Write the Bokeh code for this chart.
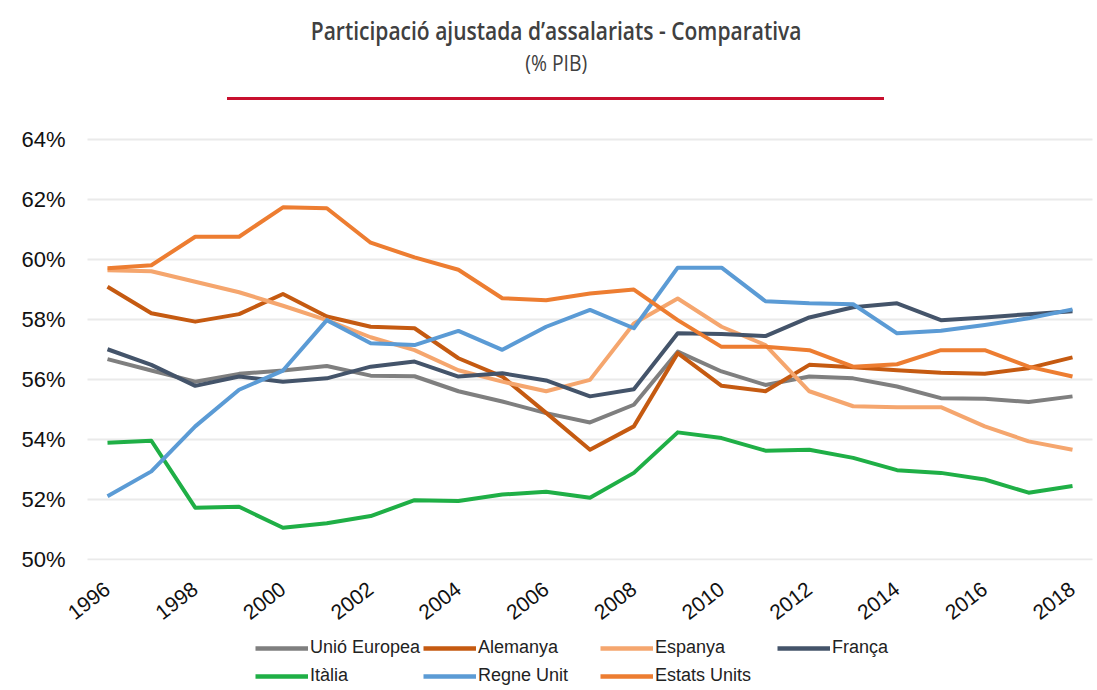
from bokeh.plotting import figure
from bokeh.models import (Div, Legend, LegendItem, FixedTicker, PrintfTickFormatter,
                          Range1d, ColumnDataSource)
from bokeh.layouts import column
from bokeh.embed import file_html
from bokeh.resources import INLINE

# ---------------- data ----------------
years = list(range(1996, 2019))
x_ticks = list(range(1996, 2019, 2))
y_ticks = [50, 52, 54, 56, 58, 60, 62, 64]

unio_europea = [56.67, 56.29, 55.92, 56.18, 56.29, 56.44, 56.12, 56.10, 55.60, 55.26, 54.87, 54.56,
                55.15, 56.92, 56.26, 55.81, 56.09, 56.03, 55.76, 55.37, 55.35, 55.24, 55.43]
alemanya = [59.08, 58.20, 57.92, 58.17, 58.84, 58.09, 57.75, 57.70, 56.70, 56.09, 54.88, 53.65,
            54.43, 56.87, 55.78, 55.60, 56.48, 56.40, 56.30, 56.22, 56.18, 56.37, 56.73]
espanya = [59.63, 59.60, 59.25, 58.90, 58.45, 57.97, 57.40, 56.97, 56.30, 55.92, 55.60, 55.98,
           57.86, 58.69, 57.75, 57.14, 55.60, 55.10, 55.07, 55.07, 54.43, 53.93, 53.65]
franca = [57.00, 56.48, 55.78, 56.09, 55.92, 56.03, 56.42, 56.59, 56.09, 56.20, 55.96, 55.43,
          55.67, 57.53, 57.51, 57.44, 58.06, 58.40, 58.53, 57.97, 58.06, 58.17, 58.27]
italia = [53.88, 53.95, 51.72, 51.75, 51.05, 51.20, 51.44, 51.97, 51.94, 52.16, 52.25, 52.05,
          52.88, 54.23, 54.04, 53.62, 53.65, 53.38, 52.97, 52.88, 52.66, 52.22, 52.44]
regne_unit = [52.10, 52.93, 54.43, 55.65, 56.29, 57.97, 57.20, 57.14, 57.61, 56.98, 57.75, 58.31,
              57.70, 59.72, 59.72, 58.60, 58.53, 58.50, 57.53, 57.62, 57.81, 58.03, 58.33]
estats_units = [59.70, 59.80, 60.75, 60.75, 61.73, 61.70, 60.55, 60.06, 59.65, 58.70, 58.63, 58.86,
                58.99, 57.97, 57.08, 57.08, 56.97, 56.42, 56.50, 56.97, 56.97, 56.42, 56.09]

series_names = ["Unió Europea", "Alemanya", "Espanya", "França", "Itàlia", "Regne Unit", "Estats Units"]
series_values = [unio_europea, alemanya, espanya, franca, italia, regne_unit, estats_units]
series_colors = ["#7F7F7F", "#C55A11", "#F5A66E", "#44546A", "#1FAF46", "#5B9BD5", "#ED7D31"]

title_text = "Participació ajustada d’assalariats - Comparativa"
subtitle_text = "(% PIB)"

# ---------------- header ----------------
header_html = f"""
<div style="position:relative;width:1097px;height:110px;">
  <div style="position:absolute;left:0;top:18px;width:1097px;padding-left:15px;box-sizing:border-box;
              text-align:center;white-space:nowrap;">
    <span style="display:inline-block;transform:scaleX(0.84);transform-origin:center;
                 font-family:'Open Sans';font-weight:600;font-size:25px;line-height:25px;
                 color:#404040;">{title_text}</span></div>
  <div style="position:absolute;left:0;top:51px;width:1097px;padding-left:15px;box-sizing:border-box;
              text-align:center;white-space:nowrap;">
    <span style="display:inline-block;transform:scaleX(0.88);transform-origin:center;
                 font-family:'Open Sans';font-weight:400;font-size:22px;line-height:22px;
                 color:#404040;">{subtitle_text}</span></div>
  <div style="position:absolute;left:227px;top:97px;width:657px;height:3px;background:#C8102E;"></div>
</div>
"""
header = Div(text=header_html, width=1097, height=110, margin=(0, 0, 0, 0))

# ---------------- chart ----------------
p = figure(width=1097, height=522, output_backend="svg", toolbar_location=None,
           x_range=Range1d(1995.544, 2018.456), y_range=Range1d(49.96, 64.29),
           min_border_left=87, min_border_right=5, min_border_top=20, min_border_bottom=72,
           margin=(0, 0, 0, 0))
p.outline_line_color = None
p.background_fill_color = "white"
p.border_fill_color = "white"

p.xgrid.grid_line_color = None
p.ygrid.grid_line_color = "#D4D4D4"
p.ygrid.grid_line_width = 2
p.ygrid.grid_line_dash = "1 1"

p.yaxis.ticker = FixedTicker(ticks=y_ticks)
p.yaxis.formatter = PrintfTickFormatter(format="%d%%")
p.xaxis.ticker = FixedTicker(ticks=x_ticks)

for ax in (p.xaxis[0], p.yaxis[0]):
    ax.axis_line_color = None
    ax.major_tick_line_color = None
    ax.minor_tick_line_color = None
    ax.major_tick_out = 0
    ax.major_tick_in = 0
    ax.major_label_text_font = "Liberation Sans"
    ax.major_label_text_color = "#111111"

p.yaxis.major_label_text_font_size = "22px"
p.yaxis.major_label_standoff = 22
p.xaxis.major_label_text_font_size = "21px"
p.xaxis.major_label_orientation = 0.66
p.xaxis.major_label_standoff = 26

for name, vals, col in zip(series_names, series_values, series_colors):
    src = ColumnDataSource(dict(x=years, y=vals))
    p.line("x", "y", source=src, line_color=col, line_width=4, line_join="round")

# ---------------- legend strip (separate canvas below the chart) ----------------
lg = figure(width=1097, height=58, output_backend="svg", toolbar_location=None,
            x_range=Range1d(0, 1), y_range=Range1d(0, 1),
            x_axis_location=None, y_axis_location=None,
            min_border=0, margin=(0, 0, 0, 0))
lg.outline_line_color = None
lg.xgrid.visible = False
lg.ygrid.visible = False

# positions relative to the legend strip's frame (aligned with chart frame, left = 87px)
col_x = [168, 336, 513, 690]
row_y = [32, 4]
for i, (name, col) in enumerate(zip(series_names, series_colors)):
    # off-screen proxy line: only used to draw the legend swatch
    r = lg.line(x=[-10, -9], y=[-10, -10], line_color=col, line_width=4.5)
    leg = Legend(items=[LegendItem(label=name, renderers=[r])],
                 location=(col_x[i % 4], row_y[i // 4]),
                 padding=0, margin=0, spacing=0,
                 border_line_color=None, background_fill_alpha=0,
                 glyph_width=53, glyph_height=20, label_height=20, label_standoff=2,
                 label_text_font="Liberation Sans", label_text_font_size="18px",
                 label_text_color="#222222")
    lg.add_layout(leg)

layout = column(header, p, lg, spacing=0, margin=(0, 0, 0, 0))
open("out.html", "w").write(file_html(layout, INLINE))
